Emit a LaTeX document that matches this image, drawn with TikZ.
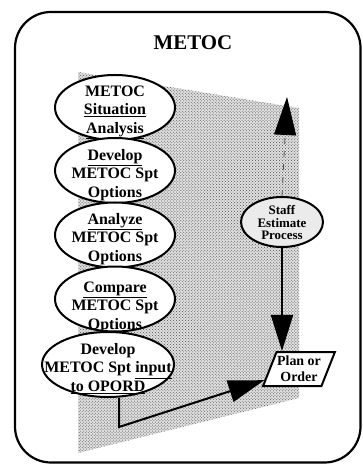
\documentclass[tikz,border=0pt]{standalone}
\usepackage{fontspec}
\setmainfont{Liberation Serif}
\usetikzlibrary{shapes.geometric,arrows.meta,patterns,calc}
% centred text block of zero size, so a shape keeps its own minimum size;
% the first argument moves the block up or down
\newcommand{\inside}[2]{\raisebox{#1}[0pt][0pt]{\makebox[0pt]{\begin{tabular}{@{}c@{}}#2\end{tabular}}}}
\begin{document}
\begin{tikzpicture}[x=1bp,y=-1bp,
  stage/.style={ellipse,draw,line width=2bp,fill=white,inner sep=0pt,
    minimum width=120bp,minimum height=65bp,
    font=\fontsize{16}{18.5}\selectfont\bfseries},
  smallstage/.style={ellipse,draw,line width=2bp,fill=black!8,inner sep=0pt,
    minimum width=82bp,minimum height=50bp,
    font=\fontsize{13}{12.5}\selectfont\bfseries},
  product/.style={trapezium,trapezium left angle=63,trapezium right angle=117,
    trapezium stretches=true,draw,line width=2bp,fill=white,inner sep=0pt,
    minimum width=72bp,minimum height=34bp,align=center,
    font=\fontsize{14}{16}\selectfont\bfseries},
  conn/.style={line width=2bp,-{Triangle[length=36bp,width=22bp]}},
  feedback/.style={line width=0.8bp,black!70,dash pattern=on 6bp off 7bp,
    -{Triangle[length=38bp,width=22bp,color=black]}},
]
\useasboundingbox (0,0) rectangle (362,464);

% outer frame and heading
\draw[line width=2.2bp,rounded corners=36bp] (15,12) rectangle (360.5,462.5);
\node[font=\fontsize{21}{24}\selectfont\bfseries] (title) at (193,43) {METOC};

% stippled backdrop
\fill[black!12] (78,72) -- (299,108) -- (299,398) -- (78,453) -- cycle;
\fill[pattern=crosshatch dots,pattern color=black!70]
  (78,72) -- (299,108) -- (299,398) -- (78,453) -- cycle;

% METOC support steps
\node[stage] (e1) at (115,107.5) {\inside{-8.1bp}{METOC\\\underline{Situation}\\\underline{Analysis}}};
\node[stage] (e2) at (115,170.5) {\inside{-9.1bp}{\underline{Develop}\\METOC Spt\\Options}};
\node[stage] (e3) at (115,235) {\inside{-8.6bp}{\underline{Analyze}\\METOC Spt\\Options}};
\node[stage] (e4) at (115,299) {\inside{-12.6bp}{\underline{Compare}\\METOC Spt\\Options}};
\node[stage,minimum width=132bp] (e5) at (108,364.5)
  {\inside{-9.1bp}{Develop\\METOC Spt \underline{input}\\\underline{to OPORD}}};

% staff side
\node[smallstage] (staff) at (282,222) {\inside{-5.6bp}{Staff\\Estimate\\Process}};
\node[product] (plan) at (299,369) {Plan or\\Order};

% connectors
\coordinate (toptip) at (287,97);
\coordinate (bend) at (119,427);
\draw[feedback] (staff.north) -- (toptip);
\draw[conn] (staff.south) -- (staff.south |- plan.north);
\draw[conn] (bend |- e5.south) -- (bend) -- (plan);
\end{tikzpicture}
\end{document}
